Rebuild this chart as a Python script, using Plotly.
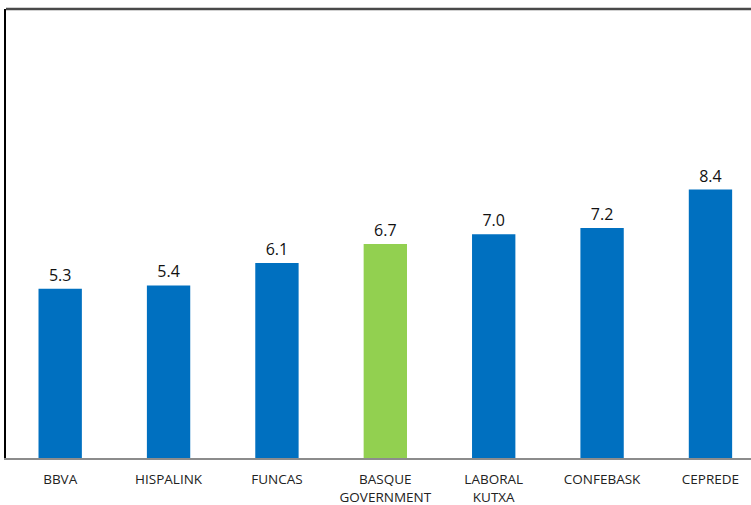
import plotly.graph_objects as go

# Forecast values by source
sources = ["BBVA", "HISPALINK", "FUNCAS", "BASQUE<br>GOVERNMENT",
           "LABORAL<br>KUTXA", "CONFEBASK", "CEPREDE"]
values = [5.3, 5.4, 6.1, 6.7, 7.0, 7.2, 8.4]
highlight = "BASQUE<br>GOVERNMENT"

BLUE = "#0070C0"
GREEN = "#92D050"
colors = [GREEN if s == highlight else BLUE for s in sources]

fig = go.Figure(
    go.Bar(
        x=sources,
        y=values,
        width=0.4,
        marker=dict(color=colors, line=dict(width=0)),
        text=[f"{v:.1f}" for v in values],
        textposition="outside",
        textfont=dict(family="Open Sans", size=16, color="#111111"),
        cliponaxis=False,
    )
)

fig.update_layout(
    width=751,
    height=505,
    margin=dict(l=6, r=0, t=9, b=47),
    paper_bgcolor="white",
    plot_bgcolor="white",
    showlegend=False,
    font=dict(family="Open Sans", size=13, color="#222222"),
    xaxis=dict(
        range=[-0.5, 6.374],
        showline=True,
        linecolor="#8c8c8c",
        linewidth=2,
        showgrid=False,
        ticks="",
        ticklabelstandoff=8,
        tickfont=dict(family="Open Sans", size=13.5, color="#222222"),
    ),
    yaxis=dict(
        range=[0, 14.05],
        showline=True,
        linecolor="#000000",
        linewidth=1.5,
        showgrid=False,
        zeroline=False,
        showticklabels=False,
        ticks="",
    ),
    shapes=[
        dict(type="line", xref="paper", yref="paper", x0=0, x1=1, y0=1, y1=1,
             line=dict(color="#4a4a4a", width=2.5)),
    ],
)

fig.write_html("out.html")
